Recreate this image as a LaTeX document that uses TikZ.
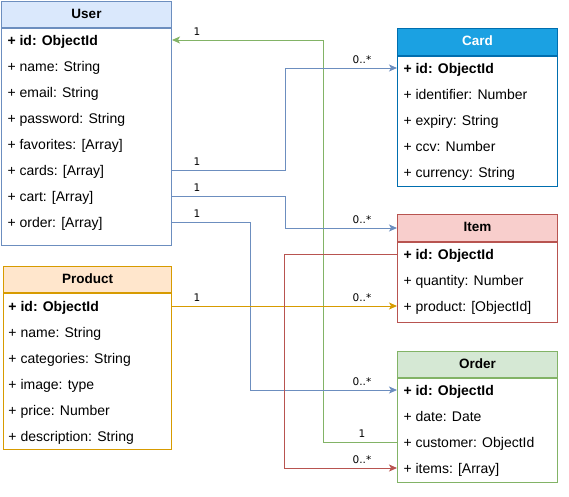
\documentclass[tikz,border=0pt]{standalone}
\usepackage{fontspec}
\setmainfont{Liberation Sans}
\newfontfamily\multfont{DejaVu Sans}
\usetikzlibrary{arrows.meta}
\definecolor{userfill}{HTML}{DAE8FC}
\definecolor{userline}{HTML}{6C8EBF}
\definecolor{prodfill}{HTML}{FFE6CC}
\definecolor{prodline}{HTML}{D79B00}
\definecolor{cardfill}{HTML}{1BA1E2}
\definecolor{cardline}{HTML}{006EAF}
\definecolor{itemfill}{HTML}{F8CECC}
\definecolor{itemline}{HTML}{B85450}
\definecolor{orderfill}{HTML}{D5E8D4}
\definecolor{orderline}{HTML}{82B366}
\tikzset{
    classhead/.style={draw, anchor=north west, inner sep=0pt, text height=10pt, text depth=3pt, font=\fontsize{13.5}{15}\selectfont\bfseries},
    classbody/.style={draw, fill=white, anchor=north west, inner sep=0pt},
    attr/.style={anchor=west, inner sep=0pt, minimum height=26pt, text height=12.5pt, text depth=1pt, font=\fontsize{14}{16}\selectfont},
    keyattr/.style={attr, font=\fontsize{14}{16}\selectfont\bfseries},
    assoc/.style={->, >={Stealth[length=8pt,width=7pt,inset=2pt]}},
    leftmult/.style={anchor=south, inner sep=0pt, xshift=25pt, yshift=4pt, font=\multfont\fontsize{10.5}{12}\selectfont},
    rightmult/.style={anchor=south, inner sep=0pt, xshift=-35pt, yshift=4pt, font=\multfont\fontsize{10.5}{12}\selectfont},
}

\begin{document}
\begin{tikzpicture}[x=1pt, y=-1pt, line width=1pt]
    \useasboundingbox (0,0) rectangle (569,496);
    % User
    \node[classhead, fill=userfill, draw=userline, minimum width=170pt, minimum height=26pt] (user-head) at (1,1) {User};
    \node[classbody, draw=userline, minimum width=170pt, minimum height=217pt] (user-body) at (user-head.south west) {};
    \node[keyattr] (user-id) at (7,40) {+ id: ObjectId};
    \node[attr] (user-name) at (7,66) {+ name: String};
    \node[attr] (user-email) at (7,92) {+ email: String};
    \node[attr] (user-pass) at (7,118) {+ password: String};
    \node[attr] (user-fav) at (7,144) {+ favorites: [Array]};
    \node[attr] (user-cards) at (7,170) {+ cards: [Array]};
    \node[attr] (user-cart) at (7,196) {+ cart: [Array]};
    \node[attr] (user-order) at (7,222) {+ order: [Array]};
    % Product
    \node[classhead, fill=prodfill, draw=prodline, minimum width=168pt, minimum height=26pt] (prod-head) at (3,266) {Product};
    \node[classbody, draw=prodline, minimum width=168pt, minimum height=156pt] (prod-body) at (prod-head.south west) {};
    \node[keyattr] (prod-id) at (8,306) {+ id: ObjectId};
    \node[attr] (prod-name) at (8,332) {+ name: String};
    \node[attr] (prod-cat) at (8,358) {+ categories: String};
    \node[attr] (prod-img) at (8,384) {+ image: type};
    \node[attr] (prod-price) at (8,410) {+ price: Number};
    \node[attr] (prod-desc) at (8,436) {+ description: String};
    % Card
    \node[classhead, fill=cardfill, draw=cardline, text=white, minimum width=160pt, minimum height=27pt] (card-head) at (397,28) {Card};
    \node[classbody, draw=cardline, minimum width=160pt, minimum height=130pt] (card-body) at (card-head.south west) {};
    \node[keyattr] (card-id) at (403,68) {+ id: ObjectId};
    \node[attr] (card-ident) at (403,94) {+ identifier: Number};
    \node[attr] (card-exp) at (403,120) {+ expiry: String};
    \node[attr] (card-ccv) at (403,146) {+ ccv: Number};
    \node[attr] (card-cur) at (403,172) {+ currency: String};
    % Item
    \node[classhead, fill=itemfill, draw=itemline, minimum width=160pt, minimum height=27pt] (item-head) at (397,214) {Item};
    \node[classbody, draw=itemline, minimum width=160pt, minimum height=80pt] (item-body) at (item-head.south west) {};
    \node[keyattr] (item-id) at (403,254) {+ id: ObjectId};
    \node[attr] (item-qty) at (403,280) {+ quantity: Number};
    \node[attr] (item-prod) at (403,306) {+ product: [ObjectId]};
    % Order
    \node[classhead, fill=orderfill, draw=orderline, minimum width=160pt, minimum height=26pt] (order-head) at (397,351) {Order};
    \node[classbody, draw=orderline, minimum width=160pt, minimum height=104pt] (order-body) at (order-head.south west) {};
    \node[keyattr] (order-id) at (403,390) {+ id: ObjectId};
    \node[attr] (order-date) at (403,416) {+ date: Date};
    \node[attr] (order-cust) at (403,442) {+ customer: ObjectId};
    \node[attr] (order-items) at (403,468) {+ items: [Array]};
    % associations
    \draw[assoc, draw=orderline] (order-body.west |- order-cust) node[rightmult] (m-cust) {1} -- ++(-74,0) |- (user-body.east |- user-id) node[leftmult] (m-user) {1};
    \draw[assoc, draw=userline] (user-body.east |- user-cards) node[leftmult] (m-cards) {1} -- ++(113,0) |- (card-body.west |- card-id) node[rightmult] (m-card) {0..*};
    \draw[assoc, draw=userline] (user-body.east |- user-cart) node[leftmult] (m-cart) {1} -- ++(113,0) |- (item-head.west) node[rightmult] (m-item) {0..*};
    \draw[assoc, draw=userline] (user-body.east |- user-order) node[leftmult] (m-uorder) {1} -- ++(78,0) |- (order-body.west |- order-id) node[rightmult] (m-order) {0..*};
    \draw[assoc, draw=prodline] (prod-body.east |- prod-id) node[leftmult] (m-prod) {1} -- (item-body.west |- item-prod) node[rightmult] (m-iprod) {0..*};
    \draw[assoc, draw=itemline] (item-body.west |- item-id) -- ++(-113,0) |- (order-body.west |- order-items) node[rightmult] (m-items) {0..*};
\end{tikzpicture}
\end{document}
